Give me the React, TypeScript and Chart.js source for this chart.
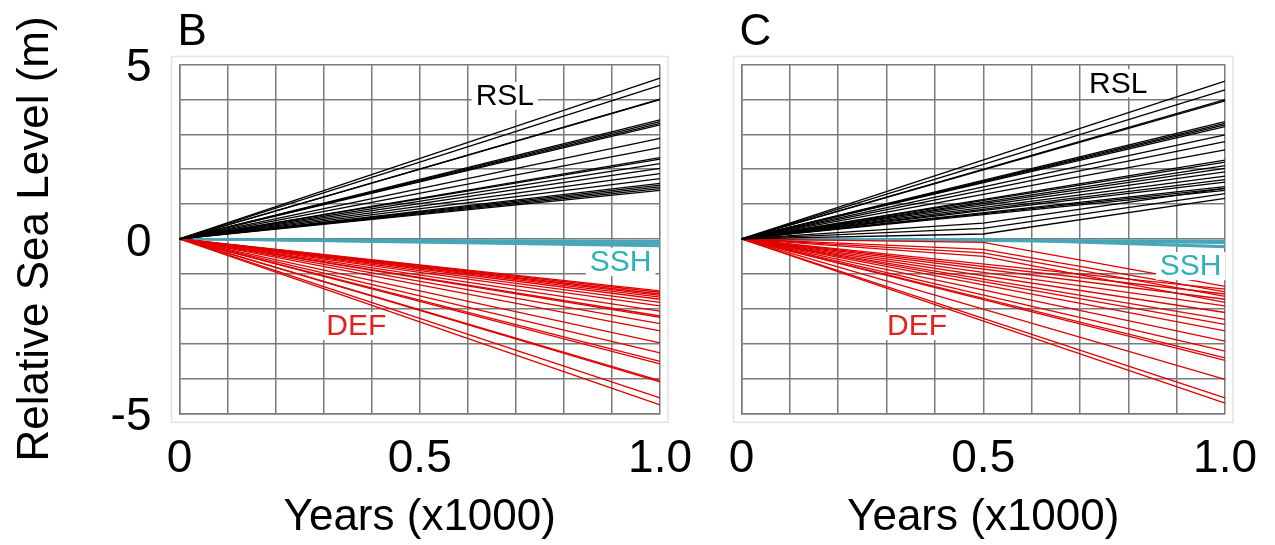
import React, { useEffect, useRef } from "react";
import { Chart, registerables } from "chart.js";

Chart.register(...registerables);

// ---- data ----
const years = [0, 0.5, 1.0]; // start, change point, end (x1000 years)
const startLevel = 0;

const xTickValues = [0, 0.5, 1.0];
const xTickTexts = ["0", "0.5", "1.0"];
const yTickValues = [-5, 0, 5];
const yTickTexts = ["-5", "0", "5"];

// Panel B: straight trajectories, end value at 1.0 kyr
const rslB = [4.61, 4.4, 4.01, 3.99, 3.41, 3.36, 3.31, 3.27, 2.88, 2.62, 2.33, 2.29, 2.16, 2.02, 1.87, 1.73, 1.59, 1.54, 1.49, 1.44, 1.39];
const defB = [-1.49, -1.53, -1.58, -1.62, -1.67, -1.73, -1.82, -1.92, -2.07, -2.21, -2.25, -2.43, -2.64, -2.98, -3.27, -3.51, -3.58, -4.06, -4.1, -4.56, -4.76];
const sshB = [-0.06, -0.1, -0.14, -0.18, -0.21];

// Panel C: straight trajectories plus ones that change at 0.5 kyr
const rslC = [4.52, 4.27, 3.99, 3.96, 3.36, 3.31, 3.27, 3.22, 2.98, 2.79, 2.55, 2.26, 2.2, 2.1, 2.02, 1.92, 1.8, 1.7, 1.63, 1.5, 1.45, 1.39];
const rslCMid = [0.14, 0.3, 0.45];
const rslCEnd = [1.16, 1.3, 1.45];
const defC = [-1.44, -1.58, -1.73, -1.92, -2.11, -2.31, -2.45, -2.64, -2.93, -3.22, -3.41, -3.48, -4.03, -4.56, -4.71];
const defCMid = [-0.1, -0.3, -0.4, -0.5];
const defCEnd = [-1.36, -1.52, -1.65, -1.82];
const sshC = [-0.05, -0.08, -0.12];
const sshCMid = [-0.01, -0.02];
const sshCEnd = [-0.2, -0.24];

// ---- styles ----
const FONT = "'Liberation Sans', Arial, Helvetica, sans-serif";
const GRID = "#7a7a7a";
const BLACK = "#000000";
const RED = "#e00000";
const CYAN = "#48a6b8";
const SSH_TEXT = "#2bb3b6";
const DEF_TEXT = "#e02222";

const H = 545;
const AREA_TOP = 64.5;
const AREA_BOTTOM = 413.3;

type Lbl = { text: string; x: number; y: number; color: string };

const labelsB: Lbl[] = [
  { text: "RSL", x: 0.677, y: 4.1, color: BLACK },
  { text: "SSH", x: 0.918, y: -0.66, color: SSH_TEXT },
  { text: "DEF", x: 0.368, y: -2.5, color: DEF_TEXT },
];
const labelsC: Lbl[] = [
  { text: "RSL", x: 0.779, y: 4.46, color: BLACK },
  { text: "SSH", x: 0.929, y: -0.78, color: SSH_TEXT },
  { text: "DEF", x: 0.363, y: -2.5, color: DEF_TEXT },
];

function straight(ends: number[], color: string, width: number) {
  return ends.map((v) => ({
    data: [
      { x: years[0], y: startLevel },
      { x: years[2], y: v },
    ],
    borderColor: color,
    borderWidth: width,
    showLine: true,
    pointRadius: 0,
    fill: false,
  }));
}

function kinked(mids: number[], ends: number[], color: string, width: number) {
  return ends.map((v, i) => ({
    data: [
      { x: years[0], y: startLevel },
      { x: years[1], y: mids[i] },
      { x: years[2], y: v },
    ],
    borderColor: color,
    borderWidth: width,
    showLine: true,
    pointRadius: 0,
    fill: false,
  }));
}

function overlay(letter: string, labels: Lbl[]) {
  return {
    id: "overlay" + letter,
    beforeDraw(chart: any) {
      const { ctx, chartArea: a } = chart;
      ctx.save();
      ctx.strokeStyle = "#e3e3e3";
      ctx.lineWidth = 1.5;
      ctx.strokeRect(a.left - 8, a.top - 8, a.right - a.left + 16, a.bottom - a.top + 17);
      ctx.restore();
    },
    afterDatasetsDraw(chart: any) {
      const { ctx } = chart;
      const xs = chart.scales.x;
      const ys = chart.scales.y;
      ctx.save();
      ctx.font = `30px ${FONT}`;
      ctx.textAlign = "center";
      ctx.textBaseline = "middle";
      for (const l of labels) {
        const px = xs.getPixelForValue(l.x);
        const py = ys.getPixelForValue(l.y);
        const w = ctx.measureText(l.text).width + 8;
        ctx.fillStyle = "#ffffff";
        ctx.fillRect(px - w / 2, py - 14, w, 28);
        ctx.fillStyle = l.color;
        ctx.fillText(l.text, px, py + 1);
      }
      ctx.restore();
    },
    afterDraw(chart: any) {
      const { ctx, chartArea: a } = chart;
      ctx.save();
      ctx.font = `44px ${FONT}`;
      ctx.fillStyle = "#000";
      ctx.textAlign = "left";
      ctx.textBaseline = "alphabetic";
      ctx.fillText(letter, a.left - 2, 45);
      ctx.restore();
    },
  };
}

function makeConfig(
  datasets: any[],
  letter: string,
  labels: Lbl[],
  yWidth: number,
  padRight: number,
  showY: boolean
): any {
  return {
    type: "scatter",
    data: { datasets },
    plugins: [overlay(letter, labels)],
    options: {
      responsive: false,
      animation: false,
      events: [],
      layout: { padding: { top: AREA_TOP, right: padRight, bottom: 0, left: 0 } },
      plugins: { legend: { display: false }, tooltip: { enabled: false }, title: { display: false } },
      scales: {
        x: {
          type: "linear",
          position: "bottom",
          min: 0,
          max: 1,
          afterFit: (s: any) => {
            s.height = H - AREA_BOTTOM;
          },
          ticks: {
            stepSize: 0.1,
            autoSkip: false,
            maxRotation: 0,
            padding: 18,
            color: "#000",
            font: { family: FONT, size: 46 },
            callback: (v: number) => {
              const i = xTickValues.findIndex((t) => Math.abs(t - v) < 1e-6);
              return i >= 0 ? xTickTexts[i] : "";
            },
          },
          grid: { color: GRID, lineWidth: 1.5, drawTicks: false },
          border: { color: GRID, width: 1.5 },
          title: {
            display: true,
            text: "Years (x1000)",
            color: "#000",
            font: { family: FONT, size: 44 },
            padding: { top: 0, bottom: 1 },
          },
        },
        y: {
          type: "linear",
          position: "left",
          min: -5,
          max: 5,
          afterFit: (s: any) => {
            s.width = yWidth;
          },
          ticks: {
            display: showY,
            stepSize: 1,
            autoSkip: false,
            padding: 28,
            labelOffset: 4,
            color: "#000",
            font: { family: FONT, size: 46 },
            callback: (v: number) => {
              const i = yTickValues.findIndex((t) => Math.abs(t - v) < 1e-6);
              return i >= 0 ? yTickTexts[i] : "";
            },
          },
          grid: { color: GRID, lineWidth: 1.5, drawTicks: false },
          border: { color: GRID, width: 1.5 },
          title: {
            display: showY,
            text: "Relative Sea Level (m)",
            color: "#000",
            font: { family: FONT, size: 44 },
            padding: { top: 9, bottom: 0 },
          },
        },
      },
    },
  };
}

function Panel(props: { left: number; width: number; config: () => any }) {
  const ref = useRef<HTMLCanvasElement | null>(null);
  useEffect(() => {
    if (!ref.current) return;
    const chart = new Chart(ref.current, props.config());
    return () => chart.destroy();
  }, []);
  return (
    <canvas
      ref={ref}
      width={props.width}
      height={H}
      style={{ position: "absolute", left: props.left, top: 0, width: props.width, height: H }}
    />
  );
}

export default function App() {
  const configB = () =>
    makeConfig(
      [...straight(rslB, BLACK, 1.3), ...straight(defB, RED, 1.3), ...straight(sshB, CYAN, 2)],
      "B",
      labelsB,
      179.5,
      710 - 668.3,
      true
    );
  const configC = () =>
    makeConfig(
      [
        ...straight(rslC, BLACK, 1.3),
        ...kinked(rslCMid, rslCEnd, BLACK, 1.3),
        ...straight(defC, RED, 1.3),
        ...kinked(defCMid, defCEnd, RED, 1.3),
        ...straight(sshC, CYAN, 2),
        ...kinked(sshCMid, sshCEnd, CYAN, 2),
      ],
      "C",
      labelsC,
      41.5,
      575 - 530.3,
      false
    );
  return (
    <div style={{ position: "absolute", left: 0, top: 0, width: 1275, height: H, background: "#fff" }}>
      <Panel left={0} width={710} config={configB} />
      <Panel left={700} width={575} config={configC} />
    </div>
  );
}
